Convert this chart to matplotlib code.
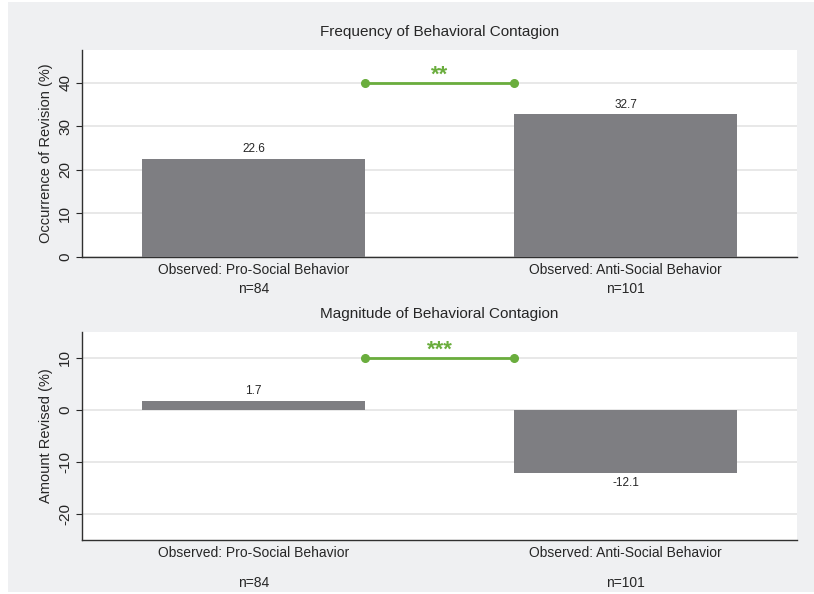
import matplotlib
matplotlib.use("Agg")
import matplotlib.pyplot as plt
from matplotlib.patches import Rectangle

plt.rcParams['font.family'] = ['Liberation Sans', 'DejaVu Sans']

categories = ["Observed: Pro-Social Behavior", "Observed: Anti-Social Behavior"]
n_labels = ["n=84", "n=101"]
freq_values = [22.6, 32.7]
mag_values = [1.7, -12.1]
titles = ["Frequency of Behavioral Contagion", "Magnitude of Behavioral Contagion"]
ylabels = ["Occurrence of Revision (%)", "Amount Revised (%)"]
freq_ticks = [0, 10, 20, 30, 40]
mag_ticks = [-20, -10, 0, 10]
freq_sig = ("**", 40)
mag_sig = ("***", 10)

BG = '#eff0f2'
BAR = '#7e7e82'
GREEN = '#6aad3d'
TXT = '#262626'

fig = plt.figure(figsize=(8.14, 5.94), dpi=100)
fig.patch.set_facecolor('white')
fig.add_artist(Rectangle((8/814, 2/594), 1 - 8/814, 1 - 4/594, transform=fig.transFigure,
                         facecolor=BG, edgecolor='none', zorder=-10))

W = 814.0
H = 594.0
left = 82 / W
width = (797 - 82) / W

ax1 = fig.add_axes([left, 1 - 257 / H, width, (257 - 50) / H])
ax2 = fig.add_axes([left, 1 - 540 / H, width, (540 - 332) / H])

panels = [
    (ax1, freq_values, freq_ticks, (0, 47.5), freq_sig, titles[0], ylabels[0], 32),
    (ax2, mag_values, mag_ticks, (-25, 15), mag_sig, titles[1], ylabels[1], 43),
]

for ax, vals, ticks, ylim, sig, title, ylabel, n_off in panels:
    ax.set_facecolor('white')
    x = list(range(len(vals)))
    ax.bar(x, vals, width=0.6, color=BAR, zorder=3)
    ax.set_xlim(-0.461, 1.461)
    ax.set_ylim(*ylim)
    ax.set_yticks(ticks)
    ax.set_yticklabels([str(t) for t in ticks], rotation=90, va='center',
                       fontsize=11, color=TXT)
    ax.yaxis.grid(True, color='#e6e6e6', linewidth=1.3, zorder=0)
    ax.set_axisbelow(True)
    ax.tick_params(axis='y', direction='out', length=4, width=0.8, color=TXT, pad=3)
    ax.set_xticks([])
    for s in ['top', 'right']:
        ax.spines[s].set_visible(False)
    for s in ['left', 'bottom']:
        ax.spines[s].set_color('#303030')
        ax.spines[s].set_linewidth(1.0)
    ax.set_ylabel(ylabel, fontsize=10.5, color=TXT, labelpad=4)
    ax.set_title(title, fontsize=11, color=TXT, pad=10)

    # value labels
    for xi, v in zip(x, vals):
        off = 7 if v >= 0 else -7
        ax.annotate(f"{v}", xy=(xi, v), xytext=(0, off), textcoords='offset points',
                    ha='center', va='center', fontsize=8.5, color=TXT)

    # category labels
    for xi, cat, nl in zip(x, categories, n_labels):
        ax.annotate(cat, xy=(xi, 0), xycoords=('data', 'axes fraction'),
                    xytext=(0, -9.5), textcoords='offset points',
                    ha='center', va='center', fontsize=10, color=TXT, annotation_clip=False)
        ax.annotate(nl, xy=(xi, 0), xycoords=('data', 'axes fraction'),
                    xytext=(0, -n_off * 0.72), textcoords='offset points',
                    ha='center', va='center', fontsize=10, color=TXT, annotation_clip=False)

    # significance bracket
    stars, yline = sig
    ax.plot([0.3, 0.7], [yline, yline], color=GREEN, linewidth=2, marker='o',
            markersize=5.5, zorder=5, clip_on=False)
    ax.annotate(stars, xy=(0.5, yline), xytext=(0, 5.5), textcoords='offset points',
                ha='center', va='center', fontsize=16, fontweight='bold', color=GREEN)

fig.savefig('out.png', dpi=100, facecolor=fig.get_facecolor())
